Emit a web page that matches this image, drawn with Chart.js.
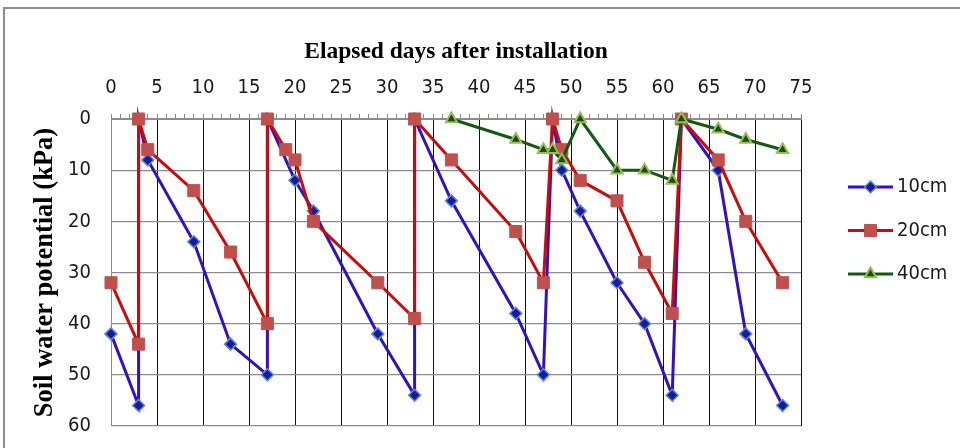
<!DOCTYPE html>
<html>
<head>
<meta charset="utf-8">
<script src="https://cdn.jsdelivr.net/npm/chart.js@4.4.1/dist/chart.umd.min.js"></script>
<style>
  html, body { margin: 0; padding: 0; background: #fff; }
  #wrap { position: relative; width: 960px; height: 448px; overflow: hidden; }
  #frame { position: absolute; left: 3px; top: 7px; width: 1000px; height: 500px;
           border-left: 2px solid #8c8c8c; border-top: 2px solid #8c8c8c; }
  canvas { position: absolute; left: 0; top: 0; }
</style>
</head>
<body>
<div id="wrap">
  <div id="frame"></div>
  <canvas id="soilChart" width="960" height="448"></canvas>
</div>
<script>
// Data: hari setelah instalasi vs potensial air tanah (kPa)
const days10 = [0, 3, 3, 4, 9, 13, 17, 17, 20, 22, 29, 33, 33, 37, 44, 47, 48, 49, 51, 55, 58, 61, 62, 66, 69, 73];
const kpa10  = [42, 56, 0, 8, 24, 44, 50, 0, 12, 18, 42, 54, 0, 16, 38, 50, 0, 10, 18, 32, 40, 54, 0, 10, 42, 56];

const days20 = [0, 3, 3, 4, 9, 13, 17, 17, 19, 20, 22, 29, 33, 33, 37, 44, 47, 48, 49, 51, 55, 58, 61, 62, 66, 69, 73];
const kpa20  = [32, 44, 0, 6, 14, 26, 40, 0, 6, 8, 20, 32, 39, 0, 8, 22, 32, 0, 6, 12, 16, 28, 38, 0, 8, 20, 32];

const days40 = [37, 44, 47, 48, 49, 51, 55, 58, 61, 62, 66, 69, 73];
const kpa40  = [0, 4, 6, 6, 8, 0, 10, 10, 12, 0, 2, 4, 6];

const seriesLabels = ["10cm", "20cm", "40cm"];

const tickFont = '"Liberation Sans Narrow", "DejaVu Sans Condensed", Lato, sans-serif';
const titleFont = '"Liberation Serif", "Times New Roman", serif';

function toPoints(xs, ys) {
  return xs.map((x, i) => ({ x: x, y: ys[i] }));
}

// Legenda di sisi kanan: garis + marker seperti gaya Excel
const sideLegend = {
  id: "sideLegend",
  afterDraw(chart) {
    const ctx = chart.ctx;
    const area = chart.chartArea;
    chart.data.datasets.forEach((ds, i) => {
      const x0 = area.right + 47;
      const y = area.top + 68 + i * 43.5;
      ctx.save();
      ctx.strokeStyle = ds.borderColor;
      ctx.lineWidth = ds.borderWidth;
      ctx.beginPath();
      ctx.moveTo(x0, y);
      ctx.lineTo(x0 + 45, y);
      ctx.stroke();
      ctx.fillStyle = ds.pointBackgroundColor;
      ctx.strokeStyle = ds.pointBorderColor;
      ctx.lineWidth = ds.pointBorderWidth;
      Chart.helpers.drawPoint(ctx, {
        pointStyle: ds.pointStyle,
        radius: ds.pointRadius,
        borderWidth: ds.pointBorderWidth,
        rotation: 0
      }, x0 + 22.5, y);
      ctx.fillStyle = "#1a1a1a";
      ctx.font = "20px " + tickFont;
      ctx.textBaseline = "middle";
      ctx.textAlign = "left";
      ctx.fillText(ds.label, x0 + 49, y);
      ctx.restore();
    });
  }
};

const datasets = [
  {
    label: seriesLabels[0],
    data: toPoints(days10, kpa10),
    borderColor: "#3010c8",
    borderWidth: 3,
    pointStyle: "rectRot",
    pointRadius: 6,
    pointBackgroundColor: "#1a1a9e",
    pointBorderColor: "#5b8fd0",
    pointBorderWidth: 1.5,
    clip: false,
    order: 3
  },
  {
    label: seriesLabels[1],
    data: toPoints(days20, kpa20),
    borderColor: "#cc0a0a",
    borderWidth: 3,
    pointStyle: "rect",
    pointRadius: 8.5,
    pointBackgroundColor: "#c0504d",
    pointBorderColor: "#c0504d",
    pointBorderWidth: 1,
    clip: false,
    order: 2
  },
  {
    label: seriesLabels[2],
    data: toPoints(days40, kpa40),
    borderColor: "#135a10",
    borderWidth: 3,
    pointStyle: "triangle",
    pointRadius: 6.5,
    pointBackgroundColor: "#14500f",
    pointBorderColor: "#9bbb59",
    pointBorderWidth: 2,
    clip: false,
    order: 1
  }
];

const config = {
  type: "scatter",
  data: { datasets: datasets },
  options: {
    responsive: false,
    animation: false,
    showLine: true,
    layout: { padding: { left: 25, top: 34, right: 159, bottom: 22 } },
    plugins: {
      legend: { display: false },
      tooltip: { enabled: false }
    },
    scales: {
      x: {
        type: "linear",
        position: "top",
        min: 0,
        max: 75,
        ticks: {
          stepSize: 1,
          autoSkip: false,
          maxRotation: 0,
          padding: 14,
          color: "#1a1a1a",
          font: { family: tickFont, size: 20 },
          callback: (v) => (v % 5 === 0 ? v : "")
        },
        grid: {
          color: (c) => {
            if (!c.tick || c.tick.value % 5 !== 0) return "rgba(0,0,0,0)";
            return c.tick.value === 0 ? "#8c8c8c" : "#111";
          },
          tickColor: "#8c8c8c",
          tickLength: 5,
          lineWidth: 1
        },
        border: { color: "#8c8c8c", width: 1 },
        title: {
          display: true,
          text: "Elapsed days after installation",
          color: "#000",
          font: { family: titleFont, size: 23.5, weight: "bold" },
          padding: { top: 4, bottom: 4 }
        },
        afterFit: (s) => { s.height = 85; }
      },
      y: {
        reverse: true,
        min: 0,
        max: 60,
        ticks: {
          stepSize: 10,
          padding: 3,
          color: "#1a1a1a",
          font: { family: tickFont, size: 20 }
        },
        grid: {
          color: "#8c8c8c",
          drawTicks: true,
          tickLength: 17,
          tickColor: "rgba(0,0,0,0)",
          lineWidth: 1.2
        },
        border: { color: "#8c8c8c", width: 1 },
        title: {
          display: true,
          text: "Soil water potential (kPa)",
          color: "#000",
          font: { family: titleFont, size: 26.5, weight: "bold" },
          padding: { top: 4, bottom: 4 }
        },
        afterFit: (s) => { s.width = 86; }
      }
    }
  },
  plugins: [sideLegend]
};

new Chart(document.getElementById("soilChart"), config);
</script>
</body>
</html>
